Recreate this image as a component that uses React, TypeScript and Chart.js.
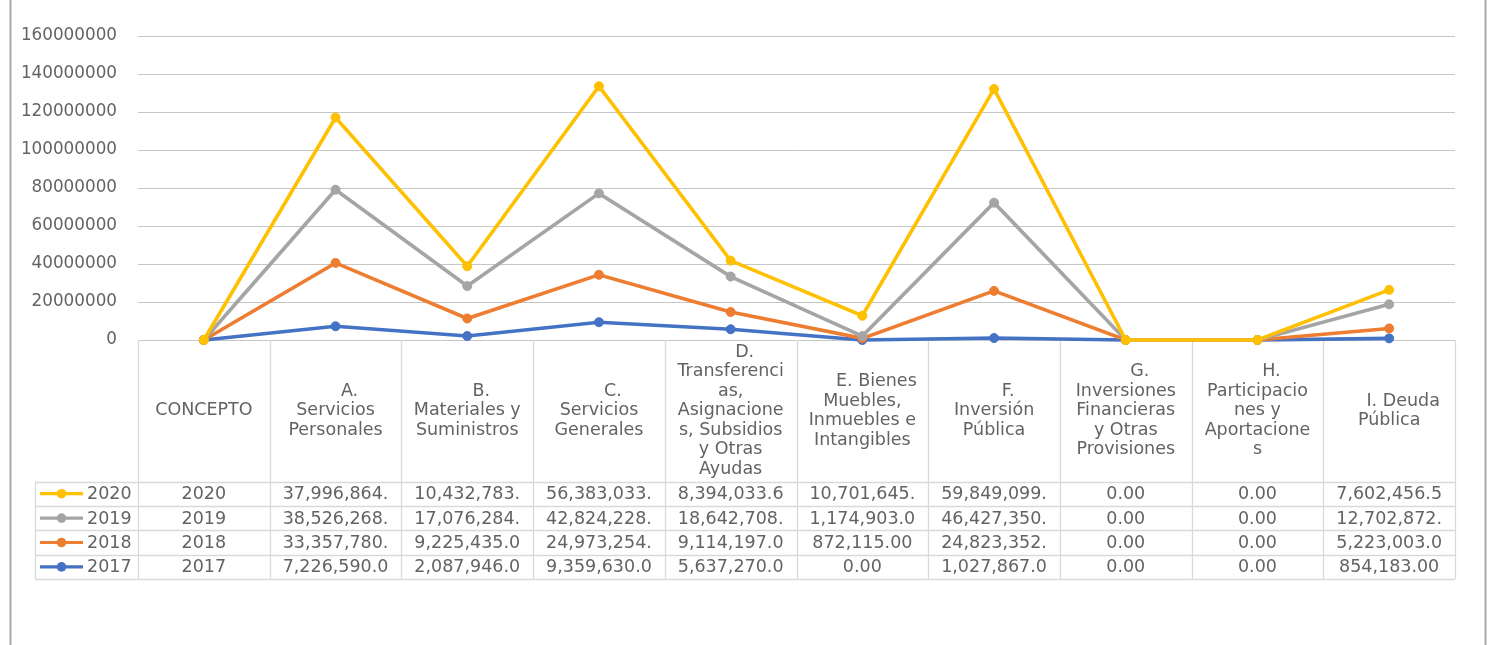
import React, { useEffect, useRef } from "react";
import { Chart, registerables } from "chart.js";

Chart.register(...registerables);

// ---------- data ----------
const categories: string[][] = [
  ["CONCEPTO"],
  ["A.", "Servicios", "Personales"],
  ["B.", "Materiales y", "Suministros"],
  ["C.", "Servicios", "Generales"],
  ["D.", "Transferenci", "as,", "Asignacione", "s, Subsidios", "y Otras", "Ayudas"],
  ["E. Bienes", "Muebles,", "Inmuebles e", "Intangibles"],
  ["F.", "Inversión", "Pública"],
  ["G.", "Inversiones", "Financieras", "y Otras", "Provisiones"],
  ["H.", "Participacio", "nes y", "Aportacione", "s"],
  ["I. Deuda", "Pública"],
];

const values2017 = [2017, 7226590, 2087946, 9359630, 5637270, 0, 1027867, 0, 0, 854183];
const values2018 = [2018, 33357780, 9225435, 24973254, 9114197, 872115, 24823352, 0, 0, 5223003];
const values2019 = [2019, 38526268, 17076284, 42824228, 18642708, 1174903, 46427350, 0, 0, 12702872];
const values2020 = [2020, 37996864, 10432783, 56383033, 8394033.6, 10701645, 59849099, 0, 0, 7602456.5];

const seriesNames = ["2017", "2018", "2019", "2020"];
const seriesValues = [values2017, values2018, values2019, values2020];
const seriesColors = ["#4472C4", "#ED7D31", "#A5A5A5", "#FFC000"];

const yMin = 0;
const yMax = 160000000;
const yStep = 20000000;

// ---------- styles ----------
const FONT = "DejaVu Sans";
const TEXT_COLOR = "#636363";
const TABLE_LINE = "#d9d9d9";

const W = 1494;
const H = 645;

function fmtValue(v: number, catIndex: number): string {
  if (catIndex === 0) return String(v);
  return v.toLocaleString("en-US", { minimumFractionDigits: 2, maximumFractionDigits: 2 });
}

const tablePlugin = {
  id: "dataTable",
  beforeDraw(chart: any) {
    const ctx = chart.ctx as CanvasRenderingContext2D;
    ctx.save();
    ctx.fillStyle = "#ffffff";
    ctx.fillRect(0, 0, chart.width, chart.height);
    ctx.strokeStyle = "#a8a8a8";
    ctx.lineWidth = 2;
    ctx.beginPath();
    ctx.moveTo(10.5, 0);
    ctx.lineTo(10.5, chart.height);
    ctx.moveTo(1485.5, 0);
    ctx.lineTo(1485.5, chart.height);
    ctx.stroke();
    ctx.restore();
  },
  beforeDatasetsDraw(chart: any) {
    const ctx = chart.ctx as CanvasRenderingContext2D;
    const xs = chart.scales.x;
    const area = chart.chartArea;
    const n = categories.length;
    const colW = xs.getPixelForValue(1) - xs.getPixelForValue(0);
    const headerTop = area.bottom;
    const headerBottom = headerTop + 141.5;
    const rowH = 24.4;
    const nRows = seriesNames.length;
    const tableBottom = headerBottom + rowH * nRows;
    const legendLeft = 35;
    const lineH = 19.5;

    ctx.save();
    // grid of the table
    ctx.strokeStyle = TABLE_LINE;
    ctx.lineWidth = 1.3;
    ctx.beginPath();
    for (let i = 0; i <= n; i++) {
      const x = Math.round(xs.getPixelForValue(i) - colW / 2) + 0.5;
      ctx.moveTo(x, headerTop);
      ctx.lineTo(x, tableBottom);
    }
    ctx.moveTo(legendLeft + 0.5, headerBottom);
    ctx.lineTo(legendLeft + 0.5, tableBottom);
    for (let r = 0; r <= nRows; r++) {
      const y = Math.round(headerBottom + r * rowH) + 0.5;
      ctx.moveTo(legendLeft, y);
      ctx.lineTo(area.right, y);
    }
    ctx.stroke();

    // header texts
    ctx.fillStyle = TEXT_COLOR;
    ctx.font = `17.5px "${FONT}"`;
    ctx.textAlign = "center";
    ctx.textBaseline = "middle";
    const headerMid = (headerTop + headerBottom) / 2;
    categories.forEach((lines, i) => {
      const cx = xs.getPixelForValue(i);
      const y0 = headerMid - ((lines.length - 1) * lineH) / 2;
      lines.forEach((ln, k) => {
        const dx = k === 0 && i > 0 ? 14 : 0;
        ctx.fillText(ln, cx + dx, y0 + k * lineH);
      });
    });

    // data rows (latest year first)
    const maxW = colW - 22;
    for (let r = 0; r < nRows; r++) {
      const s = nRows - 1 - r;
      const cy = headerBottom + r * rowH + rowH / 2 + 1;
      const vals = seriesValues[s];
      for (let i = 0; i < n; i++) {
        let txt = fmtValue(vals[i], i);
        while (txt.length > 1 && ctx.measureText(txt).width > maxW) txt = txt.slice(0, -1);
        ctx.textAlign = "center";
        ctx.fillStyle = TEXT_COLOR;
        ctx.fillText(txt, xs.getPixelForValue(i), cy);
      }
      // legend key
      const color = seriesColors[s];
      ctx.strokeStyle = color;
      ctx.lineWidth = 3.2;
      ctx.beginPath();
      ctx.moveTo(40, cy - 1);
      ctx.lineTo(83, cy - 1);
      ctx.stroke();
      ctx.fillStyle = color;
      ctx.beginPath();
      ctx.arc(61.5, cy - 1, 4.8, 0, Math.PI * 2);
      ctx.fill();
      ctx.fillStyle = TEXT_COLOR;
      ctx.textAlign = "left";
      ctx.fillText(seriesNames[s], 87, cy);
    }
    ctx.restore();

    // draw the series so that the latest year is on top
    const metas = chart.getSortedVisibleDatasetMetas();
    for (const meta of metas) meta.controller.draw();
    return false;
  },
};

export default function App() {
  const ref = useRef<HTMLCanvasElement | null>(null);

  useEffect(() => {
    if (!ref.current) return;
    const chart = new Chart(ref.current, {
      type: "line",
      data: {
        labels: categories,
        datasets: seriesNames.map((name, s) => ({
          label: name,
          data: seriesValues[s],
          borderColor: seriesColors[s],
          backgroundColor: seriesColors[s],
          borderWidth: 3.6,
          pointRadius: 4.5,
          pointBorderWidth: 1,
          pointBackgroundColor: seriesColors[s],
          pointBorderColor: seriesColors[s],
          tension: 0,
          fill: false,
        })),
      },
      options: {
        responsive: false,
        animation: false,
        events: [],
        layout: { padding: { top: 36, right: 39, bottom: 305, left: 0 } },
        plugins: {
          legend: { display: false },
          tooltip: { enabled: false },
          title: { display: false },
        },
        scales: {
          x: {
            type: "category",
            offset: true,
            display: false,
          },
          y: {
            stacked: true,
            min: yMin,
            max: yMax,
            afterFit: (scale: any) => {
              scale.width = 138;
            },
            border: { display: false },
            grid: { color: "#c6c6c6", lineWidth: 1, drawTicks: false },
            ticks: {
              stepSize: yStep,
              padding: 21,
              color: TEXT_COLOR,
              font: { family: FONT, size: 16.8 },
              callback: (v: any) => String(v),
            },
          },
        },
      },
      plugins: [tablePlugin],
    });
    return () => chart.destroy();
  }, []);

  return (
    <div style={{ position: "absolute", left: 0, top: 0, width: W, height: H, background: "#fff" }}>
      <canvas ref={ref} width={W} height={H} style={{ display: "block", width: W, height: H }} />
    </div>
  );
}
